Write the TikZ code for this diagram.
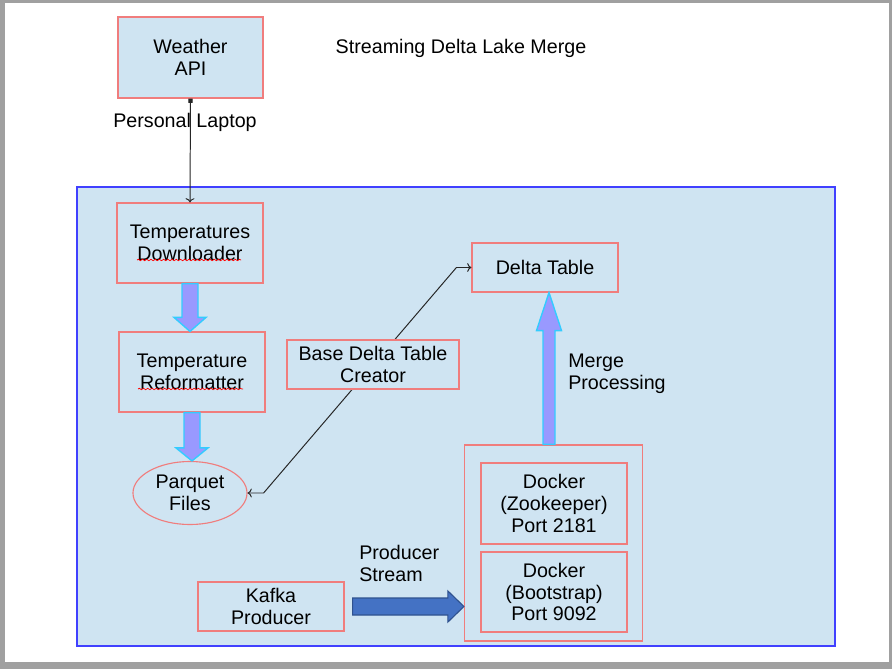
\documentclass[tikz,border=0pt]{standalone}
\usepackage{fontspec}
\setmainfont{Liberation Sans}
\usetikzlibrary{shapes.geometric,arrows.meta,calc,decorations.pathmorphing}
\definecolor{panel}{RGB}{207,228,242}
\definecolor{boxred}{RGB}{240,125,125}
\definecolor{lav}{RGB}{153,153,255}
\definecolor{cyanedge}{RGB}{51,204,255}
\definecolor{kafkablue}{RGB}{68,114,196}
\definecolor{kafkaedge}{RGB}{47,82,143}
\definecolor{framegray}{RGB}{160,160,160}
\tikzset{
  box/.style={draw=boxred, line width=0.8pt, align=center, inner sep=2pt},
  plaintext/.style={align=left, inner sep=0pt},
  wire/.style={draw=black!85, line width=0.7pt},
  fatarrow/.style={fill=lav, draw=cyanedge, line width=1pt},
  squiggle/.style={draw=red, line width=0.5pt, decorate,
    decoration={snake, amplitude=0.5pt, segment length=3pt}}
}
\begin{document}
\begin{tikzpicture}[x=0.025cm, y=-0.025cm,
    every node/.append style={font=\fontsize{14pt}{15.6pt}\selectfont}]
                    % page and shaded panel
                    \useasboundingbox (0,0) rectangle (892,669);
                    \fill[framegray] (0,0) rectangle (892,669);
                    \fill[white] (5,3) rectangle (889,662);
                    \filldraw[fill=panel, draw=blue!75, line width=0.9pt] (77,187) rectangle (835,646);
                    \coordinate (mx) at (549,0);

                    \node[box, fill=panel, minimum width=3.625cm, minimum height=2.025cm] (wa) at (190.5,57.5) {Weather\\API};
                    \node[plaintext] (title) at (461,48) {Streaming Delta Lake Merge};
                    \node[plaintext] (laptop) at (185,122) {Personal Laptop};
                    \node[box, minimum width=3.65cm, minimum height=2cm] (td) at (190,243) {Temperatures\\Downloader};
                    \node[box, minimum width=3.65cm, minimum height=2cm] (rf) at (192,372) {Temperature\\Reformatter};
                    \node[box, ellipse, inner sep=0pt, minimum width=2.85cm, minimum height=1.575cm] (pq) at (190,493) {Parquet\\Files};
                    \node[box, minimum width=3.65cm, minimum height=1.225cm] (dt) at (545,267.5) {Delta Table};
                    \node[plaintext, anchor=west] (merge) at (568,374) {Merge\\Processing};
                    \node[box, minimum width=4.45cm, minimum height=4.9cm] (dk) at (553.5,543) {};
                    \node[box, minimum width=3.65cm, minimum height=2.025cm] (zk) at (554,503.5) {Docker\\(Zookeeper)\\Port 2181};
                    \node[box, minimum width=3.65cm, minimum height=2cm] (bs) at (554,592) {Docker\\(Bootstrap)\\Port 9092};
                    \node[box, minimum width=3.65cm, minimum height=1.225cm] (kp) at (271,606.5) {Kafka\\Producer};
                    \node[plaintext, anchor=west] (stream) at (359,563.5) {Producer\\Stream};

                    % spelling marks
                    \draw[squiggle] ($(td.center)+(-53,17)$) -- ($(td.center)+(51,17)$);
                    \draw[squiggle] ($(rf.center)+(-54,17)$) -- ($(rf.center)+(51,17)$);

                    \draw[wire, {Square[length=3pt,width=3pt]}-{To[length=3pt]}] (wa.south) -- (td.north);
                    \draw[wire, {To[length=3pt]}-{To[length=3pt]}] (pq.east) -- ++(16,0) -- ($(dt.west)+(-15,0)$) -- (dt.west);
                    % creator box sits on top of the wire
                    \node[box, fill=panel, minimum width=4.3cm, minimum height=1.225cm] (bc) at (373,364.5) {Base Delta Table\\Creator};

                    % block arrows
                    \coordinate (t1) at (rf.north -| td.south);
                    \filldraw[fatarrow] ($(td.south)+(-8,0)$) -- ($(t1)+(-8,-14)$) -- ($(t1)+(-16,-14)$) -- (t1)
                        -- ($(t1)+(16,-14)$) -- ($(t1)+(8,-14)$) -- ($(td.south)+(8,0)$) -- cycle;
                    \coordinate (t2) at (pq.north -| rf.south);
                    \filldraw[fatarrow] ($(rf.south)+(-8,0)$) -- ($(t2)+(-8,-13)$) -- ($(t2)+(-16,-13)$) -- (t2)
                        -- ($(t2)+(16,-13)$) -- ($(t2)+(8,-13)$) -- ($(rf.south)+(8,0)$) -- cycle;
                    \coordinate (m0) at (dk.north -| mx);
                    \coordinate (m1) at (dt.south -| mx);
                    \filldraw[fatarrow] ($(m0)+(-6,0)$) -- ($(m1)+(-6,38)$) -- ($(m1)+(-12.5,38)$) -- (m1)
                        -- ($(m1)+(12.5,38)$) -- ($(m1)+(6,38)$) -- ($(m0)+(6,0)$) -- cycle;
                    \coordinate (k0) at ($(kp.east)+(8,0)$);
                    \coordinate (k1) at (kp.east -| dk.west);
                    \filldraw[fill=kafkablue, draw=kafkaedge, line width=0.8pt] ($(k0)+(0,-8.5)$) -- ($(k1)+(-16,-8.5)$)
                        -- ($(k1)+(-16,-15.5)$) -- (k1) -- ($(k1)+(-16,15.5)$) -- ($(k1)+(-16,8.5)$) -- ($(k0)+(0,8.5)$) -- cycle;
                \end{tikzpicture}
\end{document}
